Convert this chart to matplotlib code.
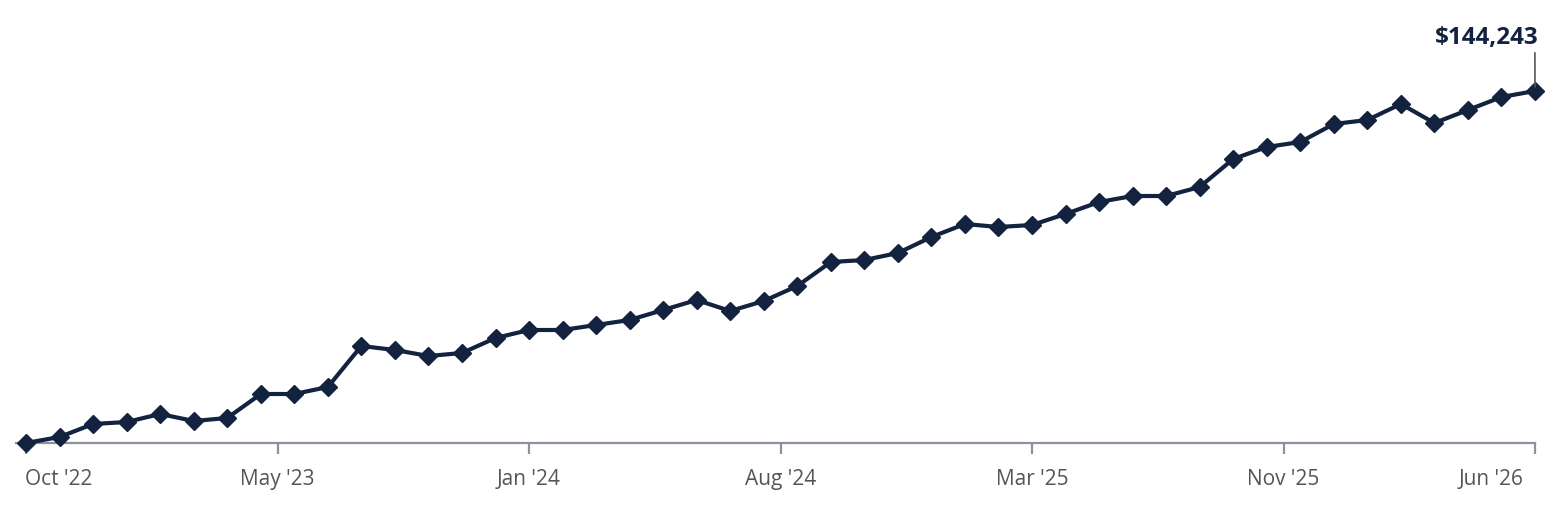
import matplotlib
matplotlib.use("Agg")
import matplotlib.pyplot as plt
import matplotlib.transforms as mtransforms

plt.rcParams['font.family'] = ['Open Sans', 'DejaVu Sans']

# Monthly values
values = [0, 2459, 7786, 8605, 11884, 9015, 10245, 20079, 20079, 22948,
          39749, 38110, 35651, 36880, 43027, 46305, 46305, 48354, 50403, 54501,
          58599, 54091, 58189, 64335, 74170, 74990, 77858, 84415, 89742, 88512,
          89332, 93840, 98757, 101216, 101216, 104904, 116378, 121295, 123344, 130720,
          132359, 138916, 131130, 136457, 141784, 144243]
tick_pos = [0, 7.5, 15, 22.5, 30, 37.5, 45]
tick_labels = ["Oct '22", "May '23", "Jan '24", "Aug '24", "Mar '25", "Nov '25", "Jun '26"]
final_label = "$144,243"

navy = '#13233f'
axis_gray = '#8c919b'

fig = plt.figure(figsize=(15.55, 5.07), dpi=100)
ax = fig.add_axes([16/1555, 1 - 443/507, (1535 - 16)/1555, 443/507])

x = list(range(len(values)))
ax.plot(x, values, color=navy, lw=3.0, marker='D', ms=8.8, mfc=navy, mec=navy,
        clip_on=False, zorder=3)

ax.set_xlim(-0.3, 45)
ax.set_ylim(0, 443 * 409.78)

for s in ['top', 'right', 'left']:
    ax.spines[s].set_visible(False)
ax.spines['bottom'].set_color(axis_gray)
ax.spines['bottom'].set_linewidth(1.6)
ax.set_yticks([])
ax.set_xticks(tick_pos)
ax.set_xticklabels(tick_labels)
ax.tick_params(axis='x', direction='out', length=8, width=1.6, color=axis_gray,
               labelsize=15, labelcolor='#555555', pad=11)
labels = ax.get_xticklabels()
labels[0].set_horizontalalignment('left')
labels[-1].set_horizontalalignment('right')
labels[0].set_transform(labels[0].get_transform() +
                        mtransforms.ScaledTranslation(-1/100, 0, fig.dpi_scale_trans))
labels[-1].set_transform(labels[-1].get_transform() +
                         mtransforms.ScaledTranslation(-12/100, 0, fig.dpi_scale_trans))

# Final value annotation with leader line
ax.annotate(final_label, xy=(x[-1], values[-1]), xytext=(3, 41), textcoords='offset pixels',
            ha='right', va='bottom', fontsize=17.5, fontweight='bold', color=navy,
            annotation_clip=False,
            arrowprops=dict(arrowstyle='-', color='#555555', lw=1.2,
                            shrinkA=0, shrinkB=3,
                            relpos=(0.97, 0.0)))

fig.savefig('out.png', dpi=100)
